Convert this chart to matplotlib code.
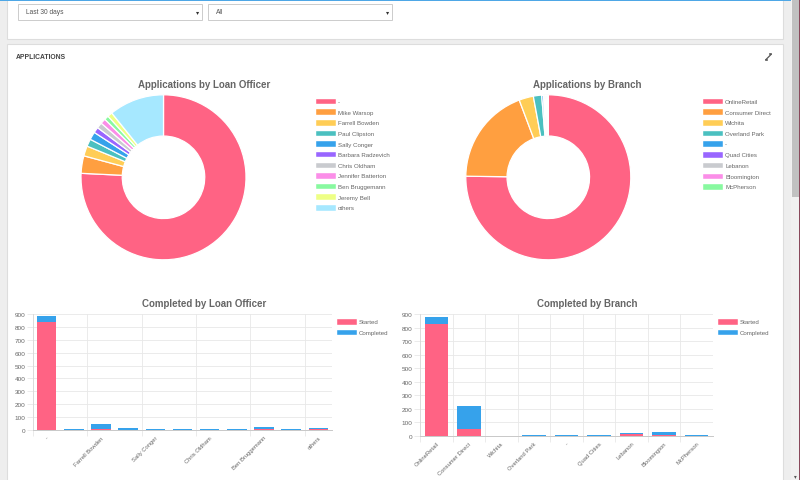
import matplotlib
matplotlib.use("Agg")
import matplotlib.pyplot as plt
from matplotlib.patches import Rectangle
from matplotlib.lines import Line2D
import numpy as np

plt.rcParams['font.family'] = ['Liberation Sans', 'DejaVu Sans']

W, H = 800, 481

# ---------------- data ----------------
officer_labels = ["-", "Mike Warsop", "Farrell Bowden", "Paul Clipston", "Sally Conger",
                  "Barbara Radzevich", "Chris Oldham", "Jennifer Batterton",
                  "Ben Bruggemann", "Jeremy Bell", "others"]
officer_apps = [885, 40, 23, 17, 18, 13, 13, 12, 10, 11, 126]

branch_labels = ["OnlineRetail", "Consumer Direct", "Wichita", "Overland Park", "-",
                 "Quad Cities", "Lebanon", "Bloomington", "McPherson"]
branch_apps = [880, 223, 33, 19, 4, 3, 3, 3, 2]

officer_started = [835, 3, 10, 3, 2, 1, 0, 1, 5, 0, 5]
officer_completed = [47, 4, 36, 10, 6, 5, 5, 7, 16, 5, 10]
officer_tick_labels = ["-", "Farrell Bowden", "Sally Conger", "Chris Oldham",
                       "Ben Bruggemann", "others"]

branch_started = [826, 50, 0, 0, 0, 0, 10, 7, 0]
branch_completed = [49, 172, 0, 6, 6, 5, 9, 20, 5]

series_labels = ["Started", "Completed"]
yticks = [0, 100, 200, 300, 400, 500, 600, 700, 800, 900]

dropdown_texts = ["Last 30 days", "All"]

# ---------------- style ----------------
palette = ["#ff6384", "#ff9f40", "#ffcd56", "#4bc0c0", "#36a2eb", "#9966ff",
           "#c9cbcf", "#fb8ee8", "#88f9a0", "#eeff85", "#a6e8ff"]
RED, BLUE = "#ff6384", "#36a2eb"
TXT = "#666666"
GRID = "#e8e8e8"


def fx(x):
    return x / W


def fy(y):
    return 1 - y / H


fig = plt.figure(figsize=(W / 100, H / 100), dpi=100)
fig.patch.set_facecolor("#eeeeee")

bg = fig.add_axes([0, 0, 1, 1], zorder=-10)
bg.set_xlim(0, W)
bg.set_ylim(H, 0)
bg.axis("off")

# panels
bg.add_patch(Rectangle((7, -2), 776, 41.5, facecolor="white", edgecolor="#dddddd", lw=0.8))
bg.add_patch(Rectangle((7, 45), 776, 440, facecolor="white", edgecolor="#dddddd", lw=0.8))
# top blue line
bg.add_patch(Rectangle((0, 0), 791, 1.6, facecolor="#4ea7e6", edgecolor="none"))
# scrollbar
bg.add_patch(Rectangle((791, 0), 9, H, facecolor="#f1f1f1", edgecolor="none"))
bg.add_patch(Rectangle((792, 0), 6.5, 198, facecolor="#c1c1c1", edgecolor="none"))
bg.add_patch(Rectangle((798.8, 0), 1.2, H, facecolor="#8a4a5c", edgecolor="none"))
bg.text(795, 477, "▾", fontsize=4, color="#555555", ha="center", va="center")

# dropdowns
for i, (x0, txt) in enumerate(zip([18, 208], dropdown_texts)):
    bg.add_patch(Rectangle((x0, 4.5), 184, 16, facecolor="white", edgecolor="#cccccc", lw=0.7))
    bg.text(x0 + 8, 12.8, txt, fontsize=4.8, color="#555555", va="center", ha="left")
    bg.text(x0 + 180, 12.8, "▾", fontsize=4.5, color="#333333", va="center", ha="center")

# panel header
bg.text(16, 57.5, "APPLICATIONS", fontsize=4.9, fontweight="bold", color="#444444",
        va="center", ha="left")
bg.add_line(Line2D([766, 771], [60.5, 55.5], color="#555555", lw=0.9))
bg.add_line(Line2D([765.8, 767.2], [60.7, 60.7], color="#555555", lw=1.2))
bg.add_line(Line2D([769.8, 771.2], [55.3, 55.3], color="#555555", lw=1.2))

# titles
for x, y, t in [(204, 84.5, "Applications by Loan Officer"),
                (587, 84.5, "Applications by Branch"),
                (204, 304.5, "Completed by Loan Officer"),
                (587, 304.5, "Completed by Branch")]:
    bg.text(x, y, t, fontsize=7.0, fontweight="bold", color=TXT, ha="center", va="center")


# ---------------- doughnuts ----------------
def doughnut(cx, cy, r, values, colors):
    ax = fig.add_axes([fx(cx - r), fy(cy + r), 2 * r / W, 2 * r / H])
    ax.pie(values, colors=colors, startangle=90, counterclock=False, radius=1,
           wedgeprops=dict(width=0.5, edgecolor="white", linewidth=0.9))
    ax.set_xlim(-1, 1)
    ax.set_ylim(-1, 1)
    ax.set_aspect("auto")
    ax.axis("off")
    return ax


doughnut(163.5, 178.3, 82.5, officer_apps, palette[:len(officer_apps)])
doughnut(548.3, 178.3, 82.5, branch_apps, palette[:len(branch_apps)])


def box_legend(x_box, y0, dy, labels, colors, bw=19.5, bh=5.5, fs=4.4):
    for i, (lab, c) in enumerate(zip(labels, colors)):
        y = y0 + i * dy
        bg.add_patch(Rectangle((x_box, y - bh / 2), bw, bh, facecolor=c, edgecolor="white", lw=0.3))
        bg.text(x_box + bw + 2.5, y, lab, fontsize=fs, color=TXT, va="center", ha="left")


box_legend(316, 102.5, 10.63, officer_labels, palette)
box_legend(703, 102.5, 10.68, branch_labels, palette)


# ---------------- stacked bars ----------------
def bar_chart(left, right, top, bottom, started, completed, tick_pos, tick_labels, grid_pos):
    ax = fig.add_axes([fx(left), fy(bottom), (right - left) / W, (bottom - top) / H])
    n = len(started)
    x = np.arange(n)
    ax.bar(x, started, width=0.72, color=RED, zorder=3)
    ax.bar(x, completed, width=0.72, bottom=started, color=BLUE, zorder=3)
    ax.set_xlim(-0.5, n - 0.5)
    ax.set_ylim(0, 900)
    ax.set_yticks(yticks)
    ax.set_yticklabels([str(v) for v in yticks])
    ax.tick_params(axis="y", length=4, width=0.6, color=GRID, labelsize=4.6,
                   labelcolor=TXT, pad=1.5)
    ax.set_xticks(tick_pos)
    ax.set_xticklabels(tick_labels, rotation=45, ha="right", rotation_mode="anchor")
    ax.tick_params(axis="x", length=0, labelsize=4.2, labelcolor=TXT, pad=3.5)
    ax.set_xticks(grid_pos, minor=True)
    ax.tick_params(axis="x", which="minor", length=4, width=0.6, color=GRID)
    for v in yticks[1:]:
        ax.axhline(v, color=GRID, lw=0.6, zorder=0)
    for g in grid_pos:
        ax.axvline(g, color=GRID, lw=0.6, zorder=0)
    for s in ["top", "right"]:
        ax.spines[s].set_visible(False)
    ax.spines["left"].set_color("#d8d8d8")
    ax.spines["left"].set_linewidth(0.6)
    ax.spines["bottom"].set_color("#c8c8c8")
    ax.spines["bottom"].set_linewidth(0.7)
    ax.set_facecolor("none")
    return ax


n1 = len(officer_started)
bar_chart(33, 332, 315, 431, officer_started, officer_completed,
          list(range(0, n1, 2)), officer_tick_labels,
          [i - 0.5 for i in range(0, n1, 2)])
n2 = len(branch_started)
bar_chart(420, 713, 315, 436.7, branch_started, branch_completed,
          list(range(n2)), branch_labels,
          [i - 0.5 for i in range(n2)])

box_legend(337, 323, 10.6, series_labels, [RED, BLUE], bw=19.5, bh=5.5, fs=4.4)
box_legend(718, 323, 10.6, series_labels, [RED, BLUE], bw=19.5, bh=5.5, fs=4.4)

fig.savefig("out.png", dpi=100, facecolor=fig.get_facecolor())
